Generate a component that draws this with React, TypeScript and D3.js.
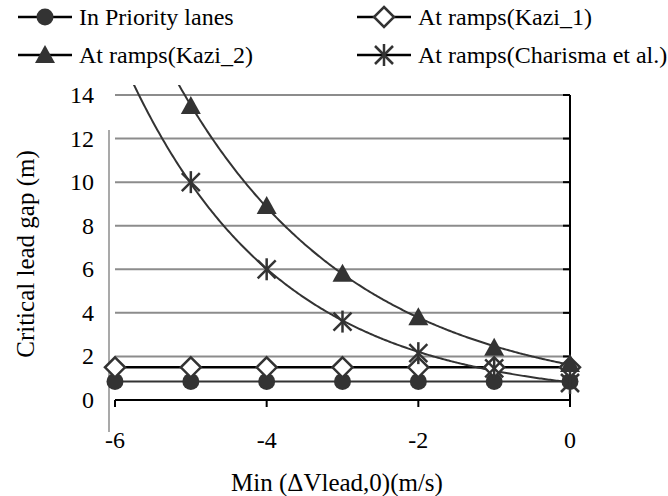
import React from "react";
import * as d3 from "d3";

// ---- data ----
const xValues = [-6, -5, -4, -3, -2, -1, 0];
const priorityLanes = [0.85, 0.85, 0.85, 0.85, 0.85, 0.85, 0.85];
const kazi1 = [1.5, 1.5, 1.5, 1.5, 1.5, 1.5, 1.5];
const kazi2X = [-5, -4, -3, -2, -1, 0];
const kazi2 = [13.5, 8.9, 5.8, 3.8, 2.4, 1.65];
const charismaX = [-5, -4, -3, -2, -1, 0];
const charisma = [10, 6, 3.6, 2.15, 1.45, 0.78];
const yTicks = [0, 2, 4, 6, 8, 10, 12, 14];
const xTicks = [-6, -4, -2, 0];
const legendLabels = [
  "In Priority lanes",
  "At ramps(Kazi_1)",
  "At ramps(Kazi_2)",
  "At ramps(Charisma et al.)",
];
const xTitle = "Min (\u0394Vlead,0)(m/s)";
const yTitle = "Critical lead gap (m)";

// exponential trendline (least squares on log values), like a spreadsheet trendline
function expFit(xs: number[], ys: number[]) {
  const ly = ys.map((v) => Math.log(v));
  const mx = d3.mean(xs) as number;
  const my = d3.mean(ly) as number;
  let sxy = 0;
  let sxx = 0;
  xs.forEach((x, i) => {
    sxy += (x - mx) * (ly[i] - my);
    sxx += (x - mx) * (x - mx);
  });
  const b = sxy / sxx;
  const a = my - b * mx;
  return (x: number) => Math.exp(a + b * x);
}

const W = 668;
const H = 496;
const FONT = "Liberation Serif, Times New Roman, DejaVu Serif, serif";
const DARK = "#333333";
const GRID = "#8c8c8c";

const x = d3.scaleLinear().domain([-6, 0]).range([115, 570]);
const y = d3.scaleLinear().domain([0, 14]).range([400, 95]);

function Marker({ kind, cx, cy }: { kind: string; cx: number; cy: number }) {
  if (kind === "circle") return <circle cx={cx} cy={cy} r={8.5} fill={DARK} />;
  if (kind === "diamond")
    return (
      <path
        d={`M${cx},${cy - 10}L${cx + 10},${cy}L${cx},${cy + 10}L${cx - 10},${cy}Z`}
        fill="white"
        stroke={DARK}
        strokeWidth={2.5}
      />
    );
  if (kind === "triangle")
    return (
      <path
        d={`M${cx},${cy - 10}L${cx + 10},${cy + 8}L${cx - 10},${cy + 8}Z`}
        fill={DARK}
      />
    );
  const s = 9;
  return (
    <g stroke={DARK} strokeWidth={2.5}>
      <line x1={cx - s} y1={cy - s} x2={cx + s} y2={cy + s} />
      <line x1={cx - s} y1={cy + s} x2={cx + s} y2={cy - s} />
      <line x1={cx} y1={cy - s - 2} x2={cx} y2={cy + s + 2} />
    </g>
  );
}

const T = (props: any) => <text {...props} style={{ fontFamily: FONT }} />;

export default function App() {
  const fitK2 = expFit(kazi2X, kazi2);
  const fitCh = expFit(charismaX, charisma);
  const samples = d3.range(-6, 0.0001, 0.02);
  const line = d3.line<number>().x((d) => x(d));
  const pathK2 = line.y((d) => y(fitK2(d)))(samples) as string;
  const pathCh = line.y((d) => y(fitCh(d)))(samples) as string;
  const flat = d3.line<number>().x((d, i) => x(xValues[i]));

  const legend = [
    { kind: "circle", lx: 18, ly: 17, label: legendLabels[0] },
    { kind: "diamond", lx: 357, ly: 17, label: legendLabels[1] },
    { kind: "triangle", lx: 18, ly: 55, label: legendLabels[2] },
    { kind: "star", lx: 357, ly: 55, label: legendLabels[3] },
  ];

  return (
    <svg
      width={W}
      height={H}
      style={{ position: "absolute", left: 0, top: 0, background: "white", fontFamily: FONT }}
    >
      <defs>
        <clipPath id="plotclip">
          <rect x={100} y={85} width={480} height={330} />
        </clipPath>
      </defs>
      <rect width={W} height={H} fill="white" />

      {yTicks
        .filter((t) => t > 0)
        .map((t) => (
          <line key={t} x1={x(-6)} x2={x(0)} y1={y(t)} y2={y(t)} stroke={GRID} strokeWidth={2} />
        ))}

      <line x1={109} x2={109} y1={130} y2={432} stroke={GRID} strokeWidth={1.5} />

      <line x1={x(0)} x2={x(0)} y1={y(14)} y2={y(0)} stroke="black" strokeWidth={2} />
      {yTicks.map((t) => (
        <line key={t} x1={x(0) - 7} x2={x(0)} y1={y(t)} y2={y(t)} stroke="black" strokeWidth={2} />
      ))}
      <line x1={x(-6)} x2={x(0)} y1={y(0)} y2={y(0)} stroke="black" strokeWidth={2} />
      {xTicks.map((t) => (
        <line key={t} x1={x(t)} x2={x(t)} y1={y(0)} y2={y(0) + 7} stroke="black" strokeWidth={2} />
      ))}

      {yTicks.map((t) => (
        <T key={t} x={94} y={y(t)} fontSize={24} textAnchor="end" dominantBaseline="central">
          {t}
        </T>
      ))}
      {xTicks.map((t) => (
        <T key={t} x={x(t)} y={440} fontSize={24} textAnchor="middle" dominantBaseline="central">
          {t}
        </T>
      ))}

      <T x={337} y={482} fontSize={25} textAnchor="middle" dominantBaseline="central">
        {xTitle}
      </T>
      <T
        transform={`translate(25,254) rotate(-90)`}
        fontSize={25}
        textAnchor="middle"
        dominantBaseline="central"
      >
        {yTitle}
      </T>

      <path d={flat.y((d) => y(d))(priorityLanes) as string} fill="none" stroke={DARK} strokeWidth={2} />
      <path d={flat.y((d) => y(d))(kazi1) as string} fill="none" stroke="black" strokeWidth={2.5} />
      <g clipPath="url(#plotclip)">
        <path d={pathK2} fill="none" stroke={DARK} strokeWidth={2} />
        <path d={pathCh} fill="none" stroke={DARK} strokeWidth={2} />
      </g>

      {priorityLanes.map((v, i) => (
        <Marker key={"p" + i} kind="circle" cx={x(xValues[i])} cy={y(v)} />
      ))}
      {kazi1.map((v, i) => (
        <Marker key={"k1" + i} kind="diamond" cx={x(xValues[i])} cy={y(v)} />
      ))}
      {kazi2.map((v, i) => (
        <Marker key={"k2" + i} kind="triangle" cx={x(kazi2X[i])} cy={y(v)} />
      ))}
      {charisma.map((v, i) => (
        <Marker key={"c" + i} kind="star" cx={x(charismaX[i])} cy={y(v)} />
      ))}

      {legend.map((l) => (
        <g key={l.label}>
          <line x1={l.lx} x2={l.lx + 54} y1={l.ly} y2={l.ly} stroke="black" strokeWidth={2.5} />
          <Marker kind={l.kind} cx={l.lx + 27} cy={l.ly} />
          <T x={l.lx + 61} y={l.ly} fontSize={24} dominantBaseline="central">
            {l.label}
          </T>
        </g>
      ))}
    </svg>
  );
}
